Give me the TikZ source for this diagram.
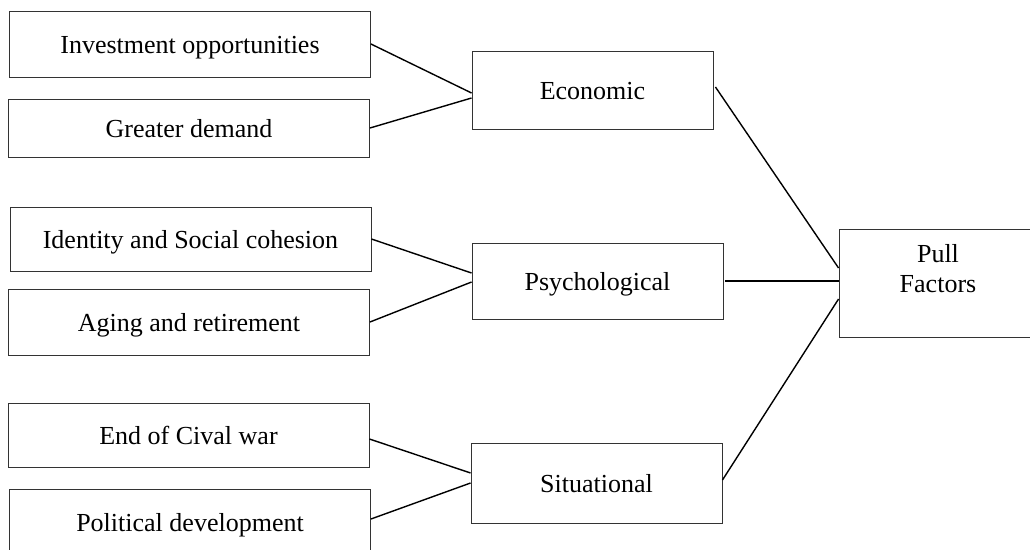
\documentclass[tikz,border=0pt]{standalone}
\usepackage{fontspec}
\setmainfont{Liberation Serif}

\begin{document}
\begin{tikzpicture}[x=1pt,y=-1pt,
		every node/.style={font=\fontsize{26}{30}\selectfont},
		box/.style={draw=black!80, line width=0.9pt, inner sep=0pt,
				minimum width=361pt, text height=20pt, text depth=1pt},
		mid/.style={box, minimum width=251pt},
		link/.style={line width=1.4pt}]
		\useasboundingbox (0,0) rectangle (1030,549);

		% Draw the boxes on the left
		\node[box, minimum height=66pt] (invest) at (190,44) {Investment opportunities};
		\node[box, minimum height=58pt] (demand) at (189,128) {Greater demand};
		\node[box, minimum height=64pt] (identity) at (190.5,239) {Identity and Social cohesion};
		\node[box, minimum height=66pt] (aging) at (189,322) {Aging and retirement};
		\node[box, minimum height=64pt] (endwar) at (188.5,435) {End of Cival war};
		\node[box, minimum height=66pt] (politic) at (190,522) {Political development};

		% Draw the middle boxes
		\node[mid, minimum width=241pt, minimum height=78pt] (econ) at (592.5,90) {Economic};
		\node[mid, minimum height=76pt] (psych) at (597.5,281) {Psychological};
		\node[mid, minimum height=80pt] (situ) at (596.5,483) {Situational};

		% Draw the box on the right
		\node[draw=black!80, line width=0.9pt, minimum width=198pt, minimum height=108pt] (pull) at (938,283) {};
		\node[align=center, inner sep=0pt] (pulltext) at (938,269) {Pull\\Factors};

		% Connect the left boxes to the middle ones
		\draw[link] (invest.east) -- ([yshift=-3pt]econ.west);
		\draw[link] (demand.east) -- ([yshift=-8pt]econ.west);
		\draw[link] (identity.east) -- ([yshift=8pt]psych.west);
		\draw[link] (aging.east) -- ([yshift=-1pt]psych.west);
		\draw[link] ([yshift=-4pt]endwar.east) -- ([yshift=10pt]situ.west);
		\draw[link] ([yshift=3pt]politic.east) -- (situ.west);

		% Connect the middle boxes to the pull factors
		\draw[link] ([shift={(2pt,3pt)}]econ.east) -- ([yshift=15pt]pull.west);
		\draw[link] ([xshift=2pt]psych.east) -- ([yshift=2pt]pull.west);
		\draw[link] ([yshift=3pt]situ.east) -- ([yshift=-16pt]pull.west);
	\end{tikzpicture}
\end{document}
